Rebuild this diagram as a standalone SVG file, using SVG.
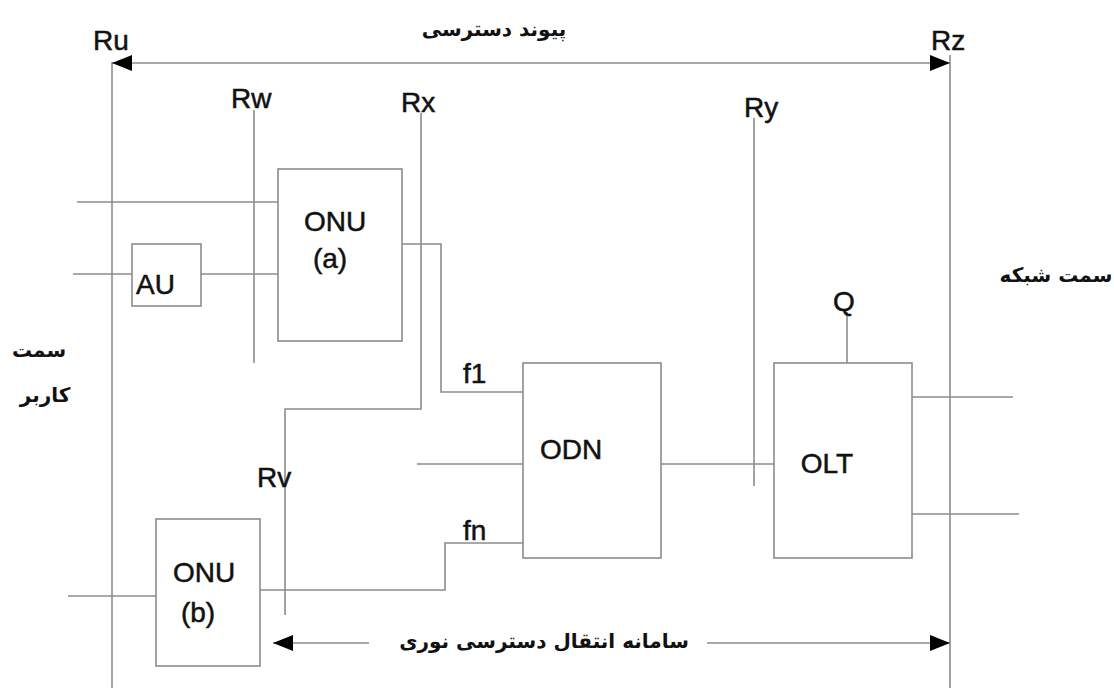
<svg xmlns="http://www.w3.org/2000/svg" width="1114" height="688" viewBox="0 0 1114 688">
<style>
.ln{stroke:#8c8c8c;stroke-width:1.6;fill:none}
.box{stroke:#8c8c8c;stroke-width:1.6;fill:#fff}
.lbl{font-family:"Liberation Sans",Arial,sans-serif;font-size:28px;fill:#111;stroke:#111;stroke-width:0.5}
.fa{font-family:"DejaVu Sans",sans-serif;font-size:20px;font-weight:bold;fill:#111;direction:rtl}
</style>
<defs>
<marker id="ah" viewBox="0 0 20 16" refX="20" refY="8" markerWidth="20" markerHeight="16" markerUnits="userSpaceOnUse" orient="auto-start-reverse">
<path d="M0,0 L20,8 L0,16 Z" fill="#000"/>
</marker>
</defs>
<rect width="1114" height="688" fill="#fff"/>
<g id="connectors">
<line class="ln" x1="112" y1="62" x2="112" y2="688"/>
<line class="ln" x1="950" y1="55" x2="950" y2="688"/>
<line class="ln" x1="112" y1="63" x2="950" y2="63" marker-start="url(#ah)" marker-end="url(#ah)"/>
<line class="ln" x1="254" y1="110" x2="254" y2="363"/>
<polyline class="ln" points="421,113 421,409 285,409 285,615"/>
<line class="ln" x1="754" y1="118" x2="754" y2="486"/>
<line class="ln" x1="77" y1="202" x2="278" y2="202"/>
<line class="ln" x1="73" y1="274" x2="132" y2="274"/>
<line class="ln" x1="201" y1="274" x2="278" y2="274"/>
<polyline class="ln" points="402,244 441,244 441,392 523,392"/>
<line class="ln" x1="417" y1="464" x2="523" y2="464"/>
<line class="ln" x1="661" y1="464" x2="774" y2="464"/>
<polyline class="ln" points="260,590 445,590 445,543 523,543"/>
<line class="ln" x1="68" y1="596" x2="156" y2="596"/>
<line class="ln" x1="847" y1="312" x2="847" y2="363"/>
<line class="ln" x1="912" y1="397" x2="1013" y2="397"/>
<line class="ln" x1="912" y1="514" x2="1019" y2="514"/>
<line class="ln" x1="273" y1="643" x2="369" y2="643" marker-start="url(#ah)"/>
<line class="ln" x1="707" y1="643" x2="950" y2="643" marker-end="url(#ah)"/>
</g>
<g id="AU"><rect class="box" x="132" y="244" width="69" height="62"/><text class="lbl" x="136" y="294">AU</text></g>
<g id="ONUa"><rect class="box" x="278" y="169" width="124" height="172"/><text class="lbl" x="335" y="231" text-anchor="middle">ONU</text><text class="lbl" x="330" y="268" text-anchor="middle">(a)</text></g>
<g id="ONUb"><rect class="box" x="156" y="519" width="104" height="147"/><text class="lbl" x="204" y="582" text-anchor="middle">ONU</text><text class="lbl" x="198" y="622" text-anchor="middle">(b)</text></g>
<g id="ODN"><rect class="box" x="523" y="363" width="138" height="195"/><text class="lbl" x="571" y="459" text-anchor="middle">ODN</text></g>
<g id="OLT"><rect class="box" x="774" y="363" width="138" height="195"/><text class="lbl" x="827" y="473" text-anchor="middle">OLT</text></g>
<g id="labels">
<text class="lbl" x="93" y="50">Ru</text>
<text class="lbl" x="931" y="50">Rz</text>
<text class="lbl" x="231" y="108">Rw</text>
<text class="lbl" x="401" y="112">Rx</text>
<text class="lbl" x="744" y="117">Ry</text>
<text class="lbl" x="257" y="487">Rv</text>
<text class="lbl" x="833" y="311">Q</text>
<text class="lbl" x="463" y="383">f1</text>
<text class="lbl" x="463" y="540">fn</text>
<text class="fa" x="494" y="36" text-anchor="middle">پیوند دسترسی</text>
<text class="fa" x="1056" y="282" text-anchor="middle">سمت شبکه</text>
<text class="fa" x="39" y="357" text-anchor="middle">سمت</text>
<text class="fa" x="45" y="402" text-anchor="middle">کاربر</text>
<text class="fa" x="544" y="648" text-anchor="middle">سامانه انتقال دسترسی نوری</text>
</g>
</svg>
